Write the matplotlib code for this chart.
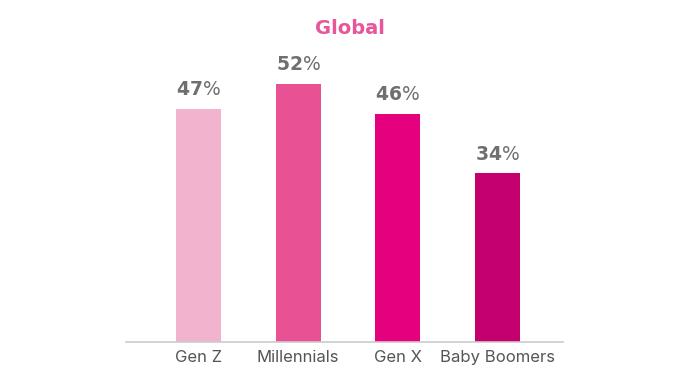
import matplotlib
matplotlib.use("Agg")
import matplotlib.pyplot as plt

plt.rcParams["mathtext.fontset"] = "dejavusans"

categories = ["Gen Z", "Millennials", "Gen X", "Baby Boomers"]
values = [47, 52, 46, 34]
colors = ["#F2B3CE", "#E85294", "#E5007E", "#C4006F"]

fig = plt.figure(figsize=(6.9, 3.88), dpi=100)
ax = fig.add_axes([126 / 690, 46 / 388, 437 / 690, 297.6 / 388])

x = list(range(len(categories)))
bars = ax.bar(x, values, width=0.45, color=colors)

ax.set_xlim(-0.727, 3.656)
ax.set_ylim(0, 60)

# bold number, lighter percent sign
for b, v in zip(bars, values):
    ax.annotate(f"$\\mathbf{{{v}}}$%", (b.get_x() + b.get_width() / 2, v),
                xytext=(0, 7), textcoords="offset points",
                ha="center", va="bottom", fontsize=13.5,
                color="#6f6f6f", family="DejaVu Sans")

ax.set_xticks(x)
ax.set_xticklabels(categories, fontsize=12, color="#555555", family="Inter")
ax.tick_params(axis="x", length=0, pad=6)
ax.set_yticks([])
for s in ["top", "right", "left"]:
    ax.spines[s].set_visible(False)
ax.spines["bottom"].set_color("#cccccc")
ax.spines["bottom"].set_linewidth(1.2)

fig.text(350 / 690, 1 - 28 / 388, "Global", ha="center", va="center",
         fontsize=14, fontweight="bold", color="#E8559A", family="DejaVu Sans")

fig.savefig("out.png", dpi=100)
